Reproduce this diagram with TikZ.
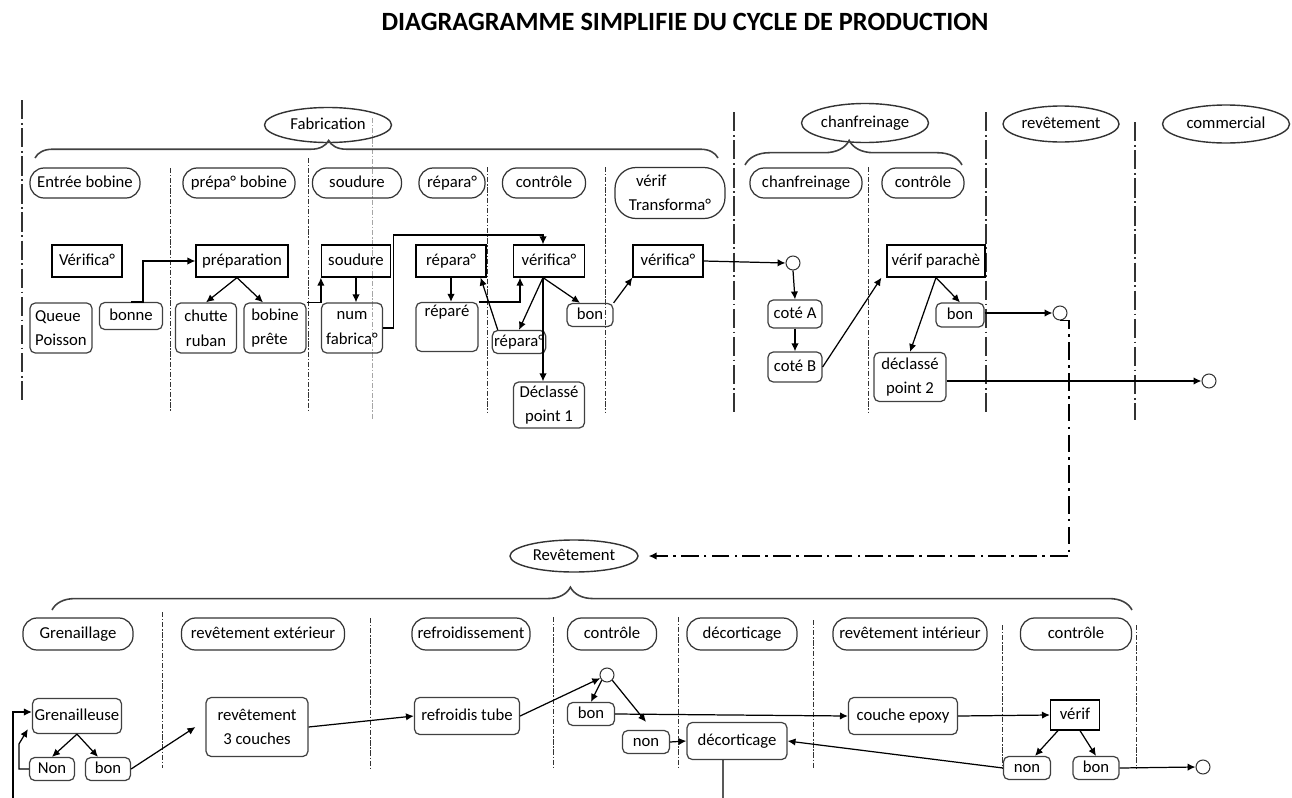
\documentclass[tikz,border=0pt]{standalone}
\usepackage{fontspec}
\setmainfont{Carlito}
\usetikzlibrary{arrows.meta,positioning,shapes.geometric,decorations.pathreplacing,calc}

\begin{document}
\begin{tikzpicture}[
  x=0.02cm, y=-0.02cm,
  font=\fontsize{9.5}{14}\selectfont,
  sz/.style 2 args={minimum width=#1*0.02cm, minimum height=#2*0.02cm},
  one/.style={text height=7pt, text depth=2pt},
  box/.style={draw, line width=0.7pt, inner sep=1pt, align=center, one},
  mbox/.style={draw=black!75, line width=0.7pt, rounded corners=3pt, inner sep=1pt, align=center},
  rbox/.style={mbox, one},
  lbl/.style={draw=black!80, line width=0.7pt, rounded corners=8pt, inner sep=1pt, align=center, one},
  ell/.style={draw=black!80, ellipse, line width=0.8pt, inner sep=0pt, one},
  circ/.style={draw=black!80, circle, line width=0.6pt, minimum size=0.28cm, inner sep=0pt},
  arr/.style={-{Latex[length=4.5pt,width=4.2pt]}, line width=0.7pt},
  lane/.style={black!80, line width=1pt, dash pattern=on 11pt off 2pt on 1pt off 2pt},
  sub/.style={black!80, line width=0.5pt, dash pattern=on 3pt off 1pt on 0.8pt off 1pt},
  ddot/.style={line width=0.8pt, dash pattern=on 10pt off 3pt on 1.5pt off 3pt},
  brc/.style 2 args={decorate, decoration={brace, aspect=#1, amplitude=#2}, line width=0.9pt, black!75}
]
\useasboundingbox (0,0) rectangle (1292,798);

\node[font=\fontsize{15}{18}\selectfont\bfseries] (titre) at (685,22) {DIAGRAGRAMME SIMPLIFIE DU CYCLE DE PRODUCTION};

% fabrication / chanfreinage
\draw[lane] (22,100) -- (22,403);
\draw[lane] (734,112) -- (734,412);
\draw[lane] (986,112) -- (986,412);
\draw[lane] (1135,122) -- (1135,420);
\foreach \x/\a in {170/168, 308/158, 487/167, 605/167, 868/167}
  \draw[sub] (\x,\a) -- (\x,412);
\draw[sub, black!35] (372,118) -- (372,420);

\node[ell, sz={127}{35}] (fab) at (328,125) {Fabrication};
\node[ell, sz={127}{39}] (chf) at (865,123) {chanfreinage};
\node[ell, sz={116}{36}] (revt) at (1061,124) {revêtement};
\node[ell, sz={127}{38}] (com) at (1226,124) {commercial};
\draw[brc={0.43}{10pt}] (35,158) -- (718,158);
\draw[brc={0.48}{14pt}] (745,165) -- (962,165);

\node[lbl, sz={110}{30}] (l1) at (85,183) {Entrée bobine};
\node[lbl, sz={112}{30}] (l2) at (239,183) {prépa° bobine};
\node[lbl, sz={89}{30}] (l3) at (357,183) {soudure};
\node[lbl, sz={66}{30}] (l4) at (452,183) {répara°};
\node[lbl, sz={83}{30}] (l5) at (544,183) {contrôle};
\node[draw=black!80, line width=0.7pt, rounded corners=12pt, inner sep=1pt, sz={110}{51}, align=left] (l6) at (670,193) {\hspace{4pt}vérif\\Transforma°};
\node[lbl, sz={112}{30}] (l7) at (806,183) {chanfreinage};
\node[lbl, sz={82}{30}] (l8) at (923,183) {contrôle};

\node[box, sz={70}{32}] (ver0) at (87,261) {Vérifica°};
\node[box, sz={92}{32}] (prep) at (242,261) {préparation};
\node[box, sz={69}{32}] (soud) at (356,261) {soudure};
\node[box, sz={70}{32}] (rep) at (451,261) {répara°};
\node[box, sz={71}{32}] (ver1) at (549,261) {vérifica°};
\node[box, sz={70}{32}] (ver2) at (668,261) {vérifica°};
\node[box, sz={98}{32}] (vpar) at (936,261) {vérif parachè};

\node[mbox, sz={62}{50}, align=left] (queue) at (61,328) {Queue\\Poisson};
\node[rbox, sz={63}{27}] (bonne) at (131,316) {bonne};
\node[mbox, sz={61}{50}] (chut) at (206,328) {chutte\\ruban};
\node[mbox, sz={62}{50}, align=left] (bob) at (275,328) {bobine\\prête};
\node[mbox, sz={61}{50}] (num) at (352,328) {num\\fabrica°};
\node[mbox, sz={62}{49}] (repd) at (447,327) {réparé\\\strut};
\node[rbox, sz={46}{23}] (rep2) at (519,342) {répara°};
\node[rbox, sz={46}{23}] (bon1) at (590,315) {bon};
\node[mbox, sz={71}{46}] (decl1) at (549,405) {Déclassé\\point 1};
\node[circ] (c1) at (793,263) {};
\node[rbox, sz={54}{28}] (cotA) at (795,314) {coté A};
\node[rbox, sz={54}{30}] (cotB) at (795,367) {coté B};
\node[rbox, sz={48}{24}] (bon2) at (960,315) {bon};
\node[mbox, sz={72}{49}] (decl2) at (910,377) {déclassé\\point 2};
\node[circ] (c2) at (1060,313) {};
\node[circ] (c3) at (1209,381) {};

\draw[arr] (bonne.north) -- ++(12,0) |- (prep.west);
\draw[arr] ([xshift=-0.1cm]prep.south) -- (chut.north);
\draw[arr] ([xshift=-0.1cm]prep.south) -- ([xshift=-0.24cm]bob.north);
\draw[arr] (bob.north east) -| (soud.south west);
\draw[arr] (soud.south) -- (soud.south |- num.north);
\draw[arr] (num.east) -- ++(10,0) -- ++(0,-93) -| ([xshift=-0.12cm]ver1.north);
\draw[arr] (rep.south) -- (rep.south |- repd.north);
\draw[arr] (repd.north east) -| ([xshift=-0.58cm]ver1.south);
\draw[arr] ([xshift=0.12cm]rep2.north west) -- ([xshift=-0.12cm]rep.south east);
\draw[arr] ([xshift=-0.12cm]ver1.south) -- (rep2.north);
\draw[arr] ([xshift=-0.12cm]ver1.south) -- ([xshift=-0.2cm]bon1.north);
\draw[arr] ([xshift=-0.12cm]ver1.south) -- ([xshift=-0.12cm]decl1.north);
\draw[arr] (bon1.north east) -- (ver2.south west);
\draw[arr] (ver2.east) -- (c1.west);
\draw[arr] (c1.south) -- (cotA.north);
\draw[arr] (cotA.south) -- (cotB.north);
\draw[arr] (cotB.east) -- ([xshift=-0.1cm]vpar.south west);
\draw[arr] (vpar.south) -- (bon2.north);
\draw[arr] (vpar.south) -- (decl2.north);
\draw[arr] (c2.west -| bon2.east) -- (c2.west);
\draw[arr] (decl2.east |- c3.west) -- (c3.west);

% revetement
\node[ell, sz={128}{32}] (revb) at (574,556) {Revêtement};
\draw[ddot, arr] (c2.south) -- ++(9,0) |- ([xshift=0.2cm]revb.east);
\draw[brc={0.48}{13pt}] (52,610) -- (1132,610);
\foreach \x/\a in {162/612, 370/618, 553/617, 678/617, 813/620, 1002/625, 1136/625}
  \draw[sub] (\x,\a) -- (\x,768);

\node[lbl, sz={110}{32}] (m1) at (78,634) {Grenaillage};
\node[lbl, sz={163}{32}] (m2) at (263,634) {revêtement extérieur};
\node[lbl, sz={118}{32}] (m3) at (471,634) {refroidissement};
\node[lbl, sz={89}{32}] (m4) at (612,634) {contrôle};
\node[lbl, sz={110}{32}] (m5) at (742,634) {décorticage};
\node[lbl, sz={154}{32}] (m6) at (910,634) {revêtement intérieur};
\node[lbl, sz={111}{32}] (m7) at (1076,634) {contrôle};

\node[rbox, sz={89}{35}] (gren) at (77,716) {Grenailleuse};
\node[rbox, sz={45}{23}] (non1) at (52,769) {Non};
\node[rbox, sz={45}{23}] (bon3) at (108,769) {bon};
\node[mbox, sz={102}{59}] (rev3) at (257,727) {revêtement\\3 couches};
\node[rbox, sz={105}{37}] (refr) at (467,716) {refroidis tube};
\node[circ] (c4) at (607,675) {};
\node[rbox, sz={47}{23}] (bon4) at (591,714) {bon};
\node[rbox, sz={47}{23}] (non2) at (646,742) {non};
\node[rbox, sz={100}{37}] (decor) at (737,741) {décorticage};
\node[rbox, sz={109}{37}] (epox) at (903,716) {couche epoxy};
\node[box, sz={49}{30}] (ver3) at (1075,715) {vérif};
\node[rbox, sz={47}{23}] (non3) at (1027,768) {non};
\node[rbox, sz={46}{23}] (bon5) at (1096,768) {bon};
\node[circ] (c5) at (1203,767) {};
\coordinate (entree) at (13,798);
\coordinate (sortie) at (723,798);

\draw[arr] (gren.south) -- (non1.north);
\draw[arr] (gren.south) -- ([xshift=-0.2cm]bon3.north);
\draw[arr] (non1.west) -| ([xshift=-0.26cm,yshift=-0.2cm]gren.south west) -- ([xshift=-0.08cm,yshift=0.1cm]gren.south west);
\draw[arr] (entree) |- ([yshift=0.08cm]gren.west);
\draw[arr] (bon3.east) -- ([xshift=-0.2cm]rev3.west);
\draw[arr] (rev3.east) -- (refr.west);
\draw[arr] (refr.east) -- (c4);
\draw[arr] (c4.south west) -- (bon4.north);
\draw[arr] (c4.south east) -- ([yshift=0.16cm]non2.north);
\draw[arr] (bon4.east) -- (epox.west);
\draw[arr] (non2.east) -- (decor.west);
\draw[line width=0.7pt] ([xshift=-0.28cm]decor.south) -- (sortie);
\draw[arr] (epox.east) -- (ver3.west);
\draw[arr] ([xshift=-0.34cm]ver3.south) -- ([xshift=0.16cm]non3.north);
\draw[arr] ([xshift=0.1cm]ver3.south) -- (bon5.north);
\draw[arr] (non3.west) -- (decor.east);
\draw[arr] (bon5.east) -- (c5.west);
\end{tikzpicture}
\end{document}
